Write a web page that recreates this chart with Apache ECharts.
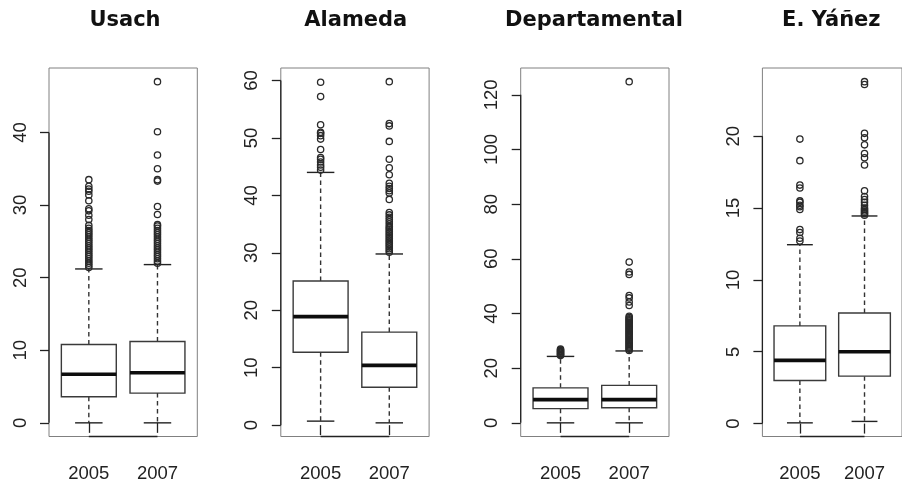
<!DOCTYPE html>
<html>
<head>
<meta charset="utf-8">
<script src="https://cdn.jsdelivr.net/npm/echarts@6/dist/echarts.min.js"></script>
<style>html,body{margin:0;padding:0;background:#fff;}#c{width:902px;height:485px;}</style>
</head>
<body>
<div id="c"></div>
<script>
// ---- data ----
const stations = ['Usach', 'Alameda', 'Departamental', 'E. Yáñez'];
const years = ['2005', '2007'];

// box stats: [lower whisker, Q1, median, Q3, upper whisker]
const usachBox2005 = [0, 3.6, 6.7, 10.8, 21.2];
const usachBox2007 = [0, 4.1, 6.9, 11.2, 21.8];
const alamedaBox2005 = [0.7, 12.7, 18.9, 25.1, 44.0];
const alamedaBox2007 = [0.4, 6.6, 10.4, 16.2, 29.8];
const deptoBox2005 = [0, 5.2, 8.5, 12.8, 24.3];
const deptoBox2007 = [0, 5.5, 8.5, 13.7, 26.3];
const yanezBox2005 = [0.05, 3.0, 4.4, 6.8, 12.45];
const yanezBox2007 = [0.15, 3.3, 5.0, 7.7, 14.45];

// outliers
const usachOut2005 = [21.4,21.7,22.0,22.3,22.6,22.9,23.2,23.5,23.8,24.1,24.4,24.7,25.0,25.3,25.6,25.9,26.2,26.5,26.8,27.2,28.0,28.6,29.2,29.5,30.6,31.4,31.9,32.2,32.6,33.5];
const usachOut2007 = [22.0,22.3,22.6,22.9,23.2,23.5,23.8,24.1,24.4,24.7,25.0,25.3,25.6,25.9,26.2,26.5,26.8,27.1,27.3,28.7,29.8,33.3,33.5,35.0,36.9,40.1,47.0];
const alamedaOut2005 = [44.4,44.9,45.3,45.8,46.3,46.6,48.0,49.8,50.4,50.8,51.0,52.3,57.2,59.7];
const alamedaOut2007 = [30.1,30.4,30.7,31.0,31.3,31.6,31.9,32.2,32.5,32.8,33.1,33.4,33.7,34.0,34.3,34.6,35.0,35.4,35.8,36.2,36.6,37.0,39.3,40.4,40.8,41.2,41.6,42.1,43.6,44.8,46.3,49.4,52.1,52.5,59.8];
const deptoOut2005 = [24.6,24.9,25.2,25.5,25.8,26.1,26.4,26.7,27.0];
const deptoOut2007 = [26.5,26.9,27.3,27.7,28.1,28.5,28.9,29.3,29.7,30.1,30.5,30.9,31.3,31.7,32.1,32.5,32.9,33.3,33.7,34.1,34.5,34.9,35.3,35.7,36.1,36.5,36.9,37.3,37.7,38.1,38.5,39.0,42.9,44.2,45.7,46.6,54.3,55.2,58.8,124.8];
const yanezOut2005 = [12.7,12.9,13.3,13.5,14.9,15.1,15.2,15.4,15.5,16.4,16.6,18.3,19.8];
const yanezOut2007 = [14.5,14.6,14.7,14.8,14.9,15.0,15.2,15.4,15.6,15.8,16.2,18.0,18.5,18.8,19.4,19.9,20.2,23.6,23.8];

// y tick labels
const usachTicks = [0, 10, 20, 30, 40];
const alamedaTicks = [0, 10, 20, 30, 40, 50, 60];
const deptoTicks = [0, 20, 40, 60, 80, 100, 120];
const yanezTicks = [0, 5, 10, 15, 20];

// ---- layout ----
const panels = [
  {box: [usachBox2005, usachBox2007], out: [usachOut2005, usachOut2007], ticks: usachTicks, left: 49, titleX: 125},
  {box: [alamedaBox2005, alamedaBox2007], out: [alamedaOut2005, alamedaOut2007], ticks: alamedaTicks, left: 280.8, titleX: 355.8},
  {box: [deptoBox2005, deptoBox2007], out: [deptoOut2005, deptoOut2007], ticks: deptoTicks, left: 520.7, titleX: 594},
  {box: [yanezBox2005, yanezBox2007], out: [yanezOut2005, yanezOut2007], ticks: yanezTicks, left: 762.4, titleX: 831.3}
];
const GW = 148.3, GTOP = 68, GH = 368.5;
const XMIN = 0.5 - 0.08, XMAX = 2.5 + 0.08;
const tickFont = 'Liberation Sans';
const ink = '#222';

const option = {animation: false, backgroundColor: '#fff', title: [], grid: [], xAxis: [], yAxis: [], series: []};

panels.forEach((p, i) => {
  let lo = Infinity, hi = -Infinity;
  p.box.forEach(b => { lo = Math.min(lo, b[0]); hi = Math.max(hi, b[4]); });
  p.out.forEach(o => o.forEach(v => { lo = Math.min(lo, v); hi = Math.max(hi, v); }));
  const ext = (hi - lo) * 0.04;
  const ymin = lo - ext, ymax = hi + ext;

  option.title.push({
    text: stations[i], left: p.titleX, top: 10, textAlign: 'center', padding: 0,
    textStyle: {fontFamily: 'DejaVu Sans', fontWeight: 'bold', fontSize: 21, color: '#111'}
  });
  option.grid.push({left: p.left, top: GTOP, width: GW, height: GH, show: true, borderColor: '#808080', borderWidth: 1, backgroundColor: 'transparent'});
  option.xAxis.push({
    gridIndex: i, type: 'value', min: XMIN, max: XMAX,
    splitLine: {show: false}, axisLine: {show: false},
    axisTick: {show: true, length: 10, customValues: [1, 2], lineStyle: {color: ink, width: 1.3}},
    axisLabel: {customValues: [1, 2], formatter: v => years[Math.round(v) - 1], fontFamily: tickFont, fontSize: 18.5, color: ink, margin: 28}
  });
  option.yAxis.push({
    gridIndex: i, type: 'value', min: ymin, max: ymax,
    splitLine: {show: false}, axisLine: {show: false},
    axisTick: {show: true, length: 9, customValues: p.ticks, lineStyle: {color: ink, width: 1.3}},
    axisLabel: {customValues: p.ticks, rotate: 90, fontFamily: tickFont, fontSize: 18.5, color: ink, margin: 19}
  });

  // partial axis lines (R style: from first to last tick)
  option.series.push({
    type: 'custom', xAxisIndex: i, yAxisIndex: i, silent: true,
    data: [[0]],
    renderItem: (params, api) => {
      const a = api.coord([XMIN, p.ticks[0]]), b = api.coord([XMIN, p.ticks[p.ticks.length - 1]]);
      const c = api.coord([1, ymin]), d = api.coord([2, ymin]);
      const st = {stroke: ink, lineWidth: 1.3};
      return {type: 'group', children: [
        {type: 'line', shape: {x1: a[0], y1: a[1], x2: b[0], y2: b[1]}, style: st},
        {type: 'line', shape: {x1: c[0], y1: c[1], x2: d[0], y2: d[1]}, style: st}
      ]};
    }
  });

  // boxes
  option.series.push({
    type: 'custom', xAxisIndex: i, yAxisIndex: i, silent: true,
    encode: {x: 0, y: [1, 2, 3, 4, 5]},
    data: p.box.map((b, k) => [k + 1].concat(b)),
    renderItem: (params, api) => {
      const x = api.value(0);
      const low = api.value(1), q1 = api.value(2), med = api.value(3), q3 = api.value(4), high = api.value(5);
      const tl = api.coord([x - 0.4, q3]), br = api.coord([x + 0.4, q1]);
      const m1 = api.coord([x - 0.4, med]), m2 = api.coord([x + 0.4, med]);
      const cq3 = api.coord([x, q3]), chi = api.coord([x, high]);
      const cq1 = api.coord([x, q1]), clo = api.coord([x, low]);
      const s1 = api.coord([x - 0.2, high]), s2 = api.coord([x + 0.2, high]);
      const s3 = api.coord([x - 0.2, low]), s4 = api.coord([x + 0.2, low]);
      const boxSt = {stroke: '#3a3a3a', lineWidth: 1.4, fill: '#fff'};
      const dash = {stroke: '#333', lineWidth: 1.4, lineDash: [4.5, 3.5]};
      const solid = {stroke: '#222', lineWidth: 1.4};
      return {type: 'group', children: [
        {type: 'line', shape: {x1: cq3[0], y1: cq3[1], x2: chi[0], y2: chi[1]}, style: dash},
        {type: 'line', shape: {x1: cq1[0], y1: cq1[1], x2: clo[0], y2: clo[1]}, style: dash},
        {type: 'line', shape: {x1: s1[0], y1: s1[1], x2: s2[0], y2: s2[1]}, style: solid},
        {type: 'line', shape: {x1: s3[0], y1: s3[1], x2: s4[0], y2: s4[1]}, style: solid},
        {type: 'rect', shape: {x: tl[0], y: tl[1], width: br[0] - tl[0], height: br[1] - tl[1]}, style: boxSt},
        {type: 'line', shape: {x1: m1[0], y1: m1[1], x2: m2[0], y2: m2[1]}, style: {stroke: '#0d0d0d', lineWidth: 3.6}}
      ]};
    }
  });

  // outliers
  p.out.forEach((o, k) => {
    option.series.push({
      type: 'scatter', xAxisIndex: i, yAxisIndex: i, silent: true, z: 3,
      symbol: 'circle', symbolSize: 6.3,
      itemStyle: {color: 'rgba(0,0,0,0)', borderColor: '#2a2a2a', borderWidth: 1.3, opacity: 1},
      data: o.map(v => [k + 1, v])
    });
  });
});

const chart = echarts.init(document.getElementById('c'), null, {renderer: 'canvas'});
chart.setOption(option);
</script>
</body>
</html>
